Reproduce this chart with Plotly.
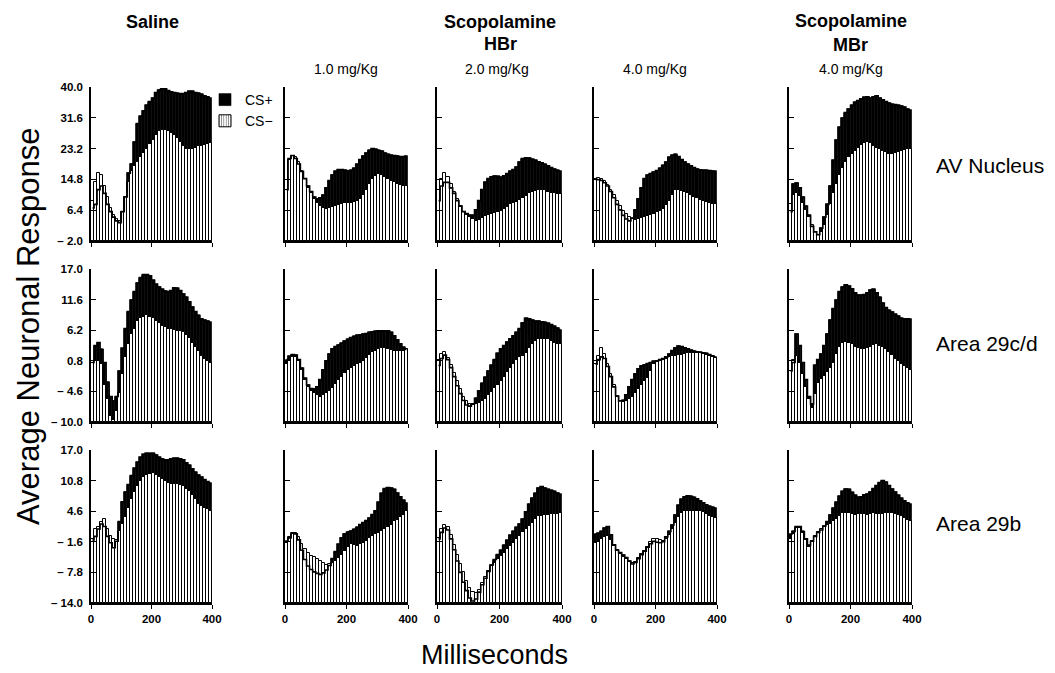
import plotly.graph_objects as go

# ---------------- data (average neuronal response per 10-ms bin) ----------------
time_ms = list(range(5, 400, 10))  # bin centres, 0-400 ms, 40 bins

# Row 1: AV Nucleus
av_sal_p = [7, 8, 12, 13, 11, 8, 6, 4.5, 3.5, 3, 6, 10, 16.5, 19, 25, 30, 32, 33.5, 35, 36, 37, 38.5, 39.2, 39.5, 39.5, 39, 38.7, 38.5, 38.3, 38.2, 38.2, 38.5, 38.8, 38.8, 38.5, 38.3, 38, 37.6, 37.3, 37]
av_sal_m = [9, 14, 16.5, 16, 13, 10, 7, 5, 4, 3.5, 6, 10, 14, 17, 18.5, 19.5, 21, 22, 23.2, 24.5, 25.5, 27, 28, 28.2, 28.2, 28, 27.5, 26.8, 26, 25, 24, 23.2, 23, 23.2, 23.5, 23.8, 24, 24.2, 24.4, 24.6]
av_h1_p = [12, 20.5, 21.3, 20.5, 19, 17, 15, 13, 11.5, 10, 9.5, 9.8, 10.5, 12.5, 14.5, 16, 17, 17.5, 17.5, 17.3, 17.1, 17.3, 17.8, 18.9, 20.2, 21.2, 22, 22.7, 23.2, 23, 22.7, 22.5, 22, 21.6, 21.4, 21.3, 21.2, 21, 21, 21.2]
av_h1_m = [12, 20, 21.2, 21, 19.5, 17, 14.8, 12.5, 11, 9.5, 8.5, 7.5, 7, 6.8, 7, 7.2, 7.5, 7.8, 8, 8.3, 8.5, 8.5, 8.6, 8.8, 9.5, 10.5, 12, 13.5, 15, 15.8, 16.2, 16, 15.5, 15, 14.5, 14, 13.6, 13.3, 13, 13]
av_h2_p = [9, 13, 14, 14, 12.5, 11, 9, 7.5, 6, 5.5, 5, 5, 6.5, 9, 12, 14, 15, 15.5, 15.7, 15.6, 15.4, 15.8, 16.4, 17, 17.5, 18.2, 19.5, 20.5, 20.7, 20.6, 20.3, 20, 19.6, 19.3, 18.9, 18.5, 18, 17.6, 17.3, 17.1]
av_h2_m = [12, 15, 16.5, 15.5, 13.5, 11.5, 9.5, 7.5, 6, 5.2, 4.5, 4, 3.5, 3.8, 4.3, 4.8, 5.1, 5.4, 5.7, 6, 6.2, 6.7, 7.2, 8, 8.3, 8.6, 9.2, 9.8, 10.3, 11, 11.4, 11.6, 11.9, 12, 11.8, 11.5, 11.2, 11, 10.8, 10.8]
av_h4_p = [14.8, 14.7, 14.5, 13.9, 13, 11.5, 9.8, 8, 6.5, 5, 4, 3.5, 4.2, 6.5, 9.5, 12.5, 15, 16, 16.4, 16.8, 17.2, 17.8, 18.6, 19.5, 20.8, 21.4, 21.6, 21, 20.2, 19.5, 19, 18.5, 18, 17.6, 17.4, 17.3, 17.3, 17.2, 17.1, 17]
av_h4_m = [15, 15.2, 15, 14.3, 13.3, 12, 10.5, 9, 7.5, 6.3, 5.3, 4.5, 3.9, 3.8, 4, 4.3, 4.6, 4.9, 5.2, 5.5, 5.8, 6.1, 6.8, 7.8, 9, 10.5, 12, 12, 11.6, 11.3, 11, 10.6, 10, 9.6, 9.2, 8.9, 8.6, 8.4, 8.2, 8]
av_m_p = [6, 13.5, 13.8, 12.5, 10, 7.5, 5, 2, 0.5, -0.3, 1.5, 4.5, 8, 13, 20, 25.5, 29, 31.5, 33, 34, 35, 35.8, 36.3, 36.8, 37.2, 37.3, 37, 37.3, 37.6, 37, 36.5, 36, 35.6, 35.3, 35.2, 35, 34.8, 34.5, 34, 33.8]
av_m_m = [8, 10.5, 11, 10.3, 8.5, 6.5, 4.5, 2.5, 0.5, -0.3, 0.5, 2.5, 5, 8, 11, 13.5, 16, 18, 19.5, 20.8, 21.8, 22.6, 23.5, 24.3, 24.8, 25, 24.6, 24, 23.4, 23, 22.6, 22.2, 21.8, 21.7, 22, 22.3, 22.6, 22.8, 23, 23]

# Row 2: Area 29c/d
cd_sal_p = [0.5, 3.5, 4, 2.8, 0.5, -3, -5.5, -6.3, -5.5, -1, 3, 6.5, 9.5, 11.5, 13, 14.5, 15.5, 16, 16, 15.8, 15, 14.3, 13.8, 13.4, 13.1, 13, 13.2, 13.7, 13.6, 13.2, 12.6, 12, 11.2, 10.3, 9.5, 8.8, 8.2, 8, 7.8, 7.6]
cd_sal_m = [0.5, 0.8, 0.8, 0.3, -3.5, -6, -9, -9.7, -8, -4.8, -1.5, 1.5, 3.8, 5.5, 6.5, 7.8, 8.3, 8.6, 8.8, 8.6, 8.3, 7.8, 7.4, 7, 6.8, 6.5, 6.4, 6.2, 6.1, 6, 5.8, 5.4, 4.8, 4, 3.3, 2.5, 1.7, 1.1, 0.7, 0.4]
cd_h1_p = [1, 1.6, 1.9, 1.8, 1, -0.5, -2.3, -3.5, -4.1, -4.2, -3.8, -2.5, -0.8, 0.8, 2, 2.9, 3.3, 3.6, 3.9, 4.3, 4.6, 4.9, 5.1, 5.3, 5.4, 5.5, 5.6, 5.8, 5.9, 6, 6.1, 6.1, 6.1, 6.1, 5.8, 5.2, 4.5, 3.8, 3.2, 2.8]
cd_h1_m = [0.2, 1, 1.4, 1.5, 0.8, -0.8, -2.5, -3.8, -4.5, -4.9, -5.2, -5.5, -5.2, -4.8, -4.5, -4, -3.3, -2.6, -2, -1.3, -0.8, -0.5, -0.1, 0.2, 0.4, 0.8, 1.3, 1.9, 2.3, 2.5, 2.8, 3, 3.1, 2.9, 2.7, 2.5, 2.5, 2.5, 2.6, 2.8]
cd_h2_p = [0, 1.2, 1.8, 1, -0.4, -2, -3.6, -5, -6.2, -7, -7.2, -6.8, -5.8, -4.5, -3.2, -2.1, -1, 0, 1, 2.1, 2.9, 3.5, 4.1, 4.7, 5.2, 5.8, 6.5, 7.5, 8.3, 8.2, 8, 7.8, 7.8, 7.7, 7.6, 7.4, 7.2, 6.9, 6.6, 6.3]
cd_h2_m = [1, 2, 2.3, 1.3, 0, -1.3, -2.8, -4.2, -5.5, -6.3, -6.8, -7, -6.8, -6.6, -6.3, -5.9, -5.3, -4.7, -4, -3.4, -2.7, -2, -1.2, -0.4, 0.3, 1, 1.4, 1.7, 2.2, 3, 3.8, 4.3, 4.6, 4.7, 4.7, 4.6, 4.3, 4, 3.8, 3.7]
cd_h4_p = [0.2, 1, 1.5, 1.2, -0.2, -2, -3.8, -5.4, -6.3, -6.2, -5.2, -3.8, -2.5, -1.5, -0.6, -0.1, 0.1, 0.3, 0.5, 0.7, 0.8, 1, 1.2, 1.5, 2, 2.6, 3.1, 3.4, 3.3, 3.1, 2.9, 2.7, 2.5, 2.4, 2.3, 2.2, 2.1, 1.9, 1.7, 1.5]
cd_h4_m = [0.2, 1.6, 3, 2, 0.2, -1.5, -3.5, -5.5, -6.3, -6.4, -6.3, -6, -5.5, -4.8, -4.2, -3.5, -2.8, -2.2, -1, 0.3, 0.6, 0.8, 1, 1.2, 1.4, 1.6, 1.7, 1.8, 1.9, 2, 2.1, 2.2, 2.2, 2.2, 2.1, 2, 1.8, 1.6, 1.4, 1.3]
cd_m_p = [-1, 0.5, 5.5, 3.5, 0.5, -2.5, -5.5, -6.8, 0, 1, 2, 3.5, 5.5, 8, 10, 11.5, 13, 13.8, 14.2, 14, 13.5, 12.8, 12.4, 12.4, 12.5, 12.8, 13.3, 13.4, 12.8, 12, 11, 10.2, 9.7, 9.4, 9, 8.7, 8.3, 8.2, 8.2, 8.2]
cd_m_m = [-1, 1, 1.7, 0.5, -1.5, -3.8, -6, -7.6, -5, -3.2, -2.4, -1.8, -1.2, -0.5, 0.5, 2, 3.3, 3.9, 4.1, 4, 3.7, 3.3, 3, 2.9, 2.9, 3, 3.3, 3.6, 3.7, 3.5, 3.2, 2.8, 2.3, 1.8, 1.2, 0.7, 0.2, -0.2, -0.5, -0.9]

# Row 3: Area 29b
b_sal_p = [-1.2, -0.5, 1, 2, 1.5, -0.5, -1.8, -2.8, -1.5, 2.5, 6.5, 8.5, 10, 11.8, 13.3, 14.5, 15.5, 16.1, 16.3, 16.3, 16.3, 16, 15.5, 15.2, 15, 15, 15.2, 15.3, 15.3, 15.2, 15, 14.4, 13.9, 13.2, 12.5, 11.9, 11.5, 11, 10.6, 10.3]
b_sal_m = [-1, 1, 1.5, 2.5, 3, 1, -0.5, -1, -1.2, 0.5, 2, 3.5, 5.2, 7, 8.5, 9.8, 10.8, 11.5, 12, 12.2, 12.3, 12, 11.6, 11.2, 10.8, 10.4, 10.2, 10.1, 10.1, 10, 9.7, 9.2, 8.6, 7.8, 7, 6, 5.6, 5.3, 5.1, 4.7]
b_h1_p = [-1.5, -0.8, 0.2, 0, -1.2, -3.3, -5.2, -6.5, -7.2, -7.7, -8, -8.2, -7.9, -7.3, -6.4, -5, -3.6, -2.1, -0.8, 0, 0.4, 0.6, 0.9, 1.3, 1.9, 2.3, 2.7, 3.2, 3.9, 4.7, 6.4, 8.2, 9.2, 9.4, 9.3, 9, 8.3, 7.5, 6.8, 6.3]
b_h1_m = [-1.8, -0.6, 0, 0.1, -0.6, -2, -3.1, -3.8, -4.4, -4.7, -5, -5.5, -5.9, -6.2, -6, -5.8, -5.4, -4.8, -4.2, -3.5, -2.6, -2.1, -2.3, -2.4, -2.1, -1.8, -1.5, -0.8, -0.4, -0.1, 0.1, 0.5, 0.9, 1.5, 1.9, 2.6, 2.9, 3.4, 3.8, 4.6]
b_h2_p = [-1, 0.3, 1.2, 0.8, -1, -3.2, -5.5, -7.8, -9.8, -11.5, -13, -13.6, -13.2, -11.8, -10.3, -9, -7.6, -6.3, -5.2, -4.2, -3.3, -2.3, -1.3, -0.3, 0.5, 1.3, 2, 3, 4.5, 6, 7.2, 8.2, 9.3, 9.6, 9.3, 9, 8.8, 8.6, 8.3, 8]
b_h2_m = [-0.8, 1, 1.9, 1.5, -0.3, -2.3, -4.2, -6, -7.8, -9.5, -11, -11.8, -12, -11.3, -10, -8.8, -7.6, -6.6, -5.8, -5.1, -4.5, -3.8, -3.1, -2.5, -1.8, -1.1, -0.4, 0.3, 1, 1.6, 2.3, 3, 3.6, 3.7, 3.8, 3.9, 4, 4, 4.1, 4.2]
b_h4_p = [0, 0.1, 0.5, 1.2, 1.5, -0.2, -2.2, -3.3, -3.8, -4.3, -4.8, -5.5, -6.1, -5.8, -5, -4.2, -3.5, -2.7, -2, -1.5, -1.7, -1.8, -1.6, -0.6, 0.5, 1.8, 3.8, 5.8, 7, 7.5, 7.7, 7.6, 7.4, 7.1, 6.7, 6.3, 5.9, 5.6, 5.4, 5.3]
b_h4_m = [-1.8, -1.5, -1.1, -0.6, -0.5, -1.3, -2.5, -3.3, -4.1, -4.6, -5.1, -5.7, -5.9, -5.6, -4.8, -4.1, -3.5, -2.6, -1.6, -1.1, -1.1, -1.3, -1.4, -1, -0.3, 0.9, 2.2, 3.4, 4.3, 4.7, 4.7, 4.7, 4.7, 4.7, 4.6, 4.4, 4.1, 3.7, 3.5, 3.3]
b_m_p = [0, 0.5, 1.5, 1.5, 0.5, -1, -2.3, -1.5, -0.5, 0.3, 0.8, 1.6, 2.5, 3.8, 5.2, 6.4, 7.6, 8.6, 9.1, 9, 8.4, 7.8, 7.4, 7.5, 7.9, 8.1, 8.5, 9.2, 9.8, 10.4, 10.8, 10.5, 9.8, 9.1, 8.5, 7.8, 7.2, 6.7, 6.3, 6.1]
b_m_m = [-1, 0, 1.2, 1.1, 0.2, -1.3, -2.6, -1.5, -0.5, 0.3, 0.9, 1.5, 1.8, 2.1, 2.6, 3.1, 3.6, 4.3, 4.3, 4.2, 4, 3.9, 4, 4.1, 4, 3.9, 4.1, 4.2, 4.1, 4, 4.1, 4.2, 4.2, 4.2, 4.1, 3.9, 3.6, 3.2, 2.9, 2.7]

row_labels = ["AV Nucleus", "Area 29c/d", "Area 29b"]
dose_labels = ["", "1.0 mg/Kg", "2.0 mg/Kg", "4.0 mg/Kg", "4.0 mg/Kg"]
row_ranges = [(-2.0, 40.0), (-10.0, 17.0), (-14.0, 17.0)]
row_tickvals = [[-2.0, 6.4, 14.8, 23.2, 31.6, 40.0],
                [-10.0, -4.6, 0.8, 6.2, 11.6, 17.0],
                [-14.0, -7.8, -1.6, 4.6, 10.8, 17.0]]
row_ticktext = [["\u2013 2.0", "6.4", "14.8", "23.2", "31.6", "40.0"],
                ["\u2013 10.0", "\u2013 4.6", "0.8", "6.2", "11.6", "17.0"],
                ["\u2013 14.0", "\u2013 7.8", "\u2013 1.6", "4.6", "10.8", "17.0"]]
x_tickvals = [0, 200, 400]

panels = [
    [(av_sal_p, av_sal_m), (av_h1_p, av_h1_m), (av_h2_p, av_h2_m), (av_h4_p, av_h4_m), (av_m_p, av_m_m)],
    [(cd_sal_p, cd_sal_m), (cd_h1_p, cd_h1_m), (cd_h2_p, cd_h2_m), (cd_h4_p, cd_h4_m), (cd_m_p, cd_m_m)],
    [(b_sal_p, b_sal_m), (b_h1_p, b_h1_m), (b_h2_p, b_h2_m), (b_h4_p, b_h4_m), (b_m_p, b_m_m)],
]

# ---------------- layout geometry (pixels in the 1055x673 window) ----------------
WIN_W, WIN_H = 1055, 673
PAGE_PAD = 8  # default body margin of the html page
W, H = WIN_W - PAGE_PAD, WIN_H - PAGE_PAD
col_px = [(91, 212), (285, 408), (437, 562), (594, 717), (789, 912)]
row_px = [(87, 241), (269, 422), (450, 603)]
FONT = "Liberation Sans, Arial, Helvetica, sans-serif"


def fx(p):
    return (p - PAGE_PAD) / W


def fy(p):
    return 1 - (p - PAGE_PAD) / H


fig = go.Figure()
layout_axes = {}

for r in range(3):
    ymin, ymax = row_ranges[r]
    for c in range(5):
        k = r * 5 + c + 1
        xa = "x" if k == 1 else f"x{k}"
        ya = "y" if k == 1 else f"y{k}"
        csp, csm = panels[r][c]
        first = (k == 1)
        fig.add_trace(go.Bar(
            x=time_ms, y=[v - ymin for v in csp], base=ymin, width=10,
            marker=dict(color="black", line=dict(color="black", width=0.6)),
            name="CS+", showlegend=first, legendrank=1,
            xaxis=xa, yaxis=ya, hoverinfo="skip"))
        fig.add_trace(go.Bar(
            x=time_ms, y=[v - ymin for v in csm], base=ymin, width=10,
            marker=dict(color="white", line=dict(color="black", width=1)),
            name="CS\u2212", showlegend=False,
            xaxis=xa, yaxis=ya, hoverinfo="skip"))
        fig.add_trace(go.Scatter(
            x=time_ms, y=csp, mode="lines",
            line=dict(color="black", width=1.6, shape="hvh"),
            showlegend=False, xaxis=xa, yaxis=ya, hoverinfo="skip"))

        x0, x1 = col_px[c]
        y0, y1 = row_px[r]
        layout_axes["xaxis" if k == 1 else f"xaxis{k}"] = dict(
            domain=[fx(x0), fx(x1)], anchor=ya, range=[0, 400],
            showline=True, linecolor="black", linewidth=1.5,
            ticks="outside", ticklen=4, tickwidth=1.2, tickcolor="black",
            tickvals=x_tickvals, ticktext=[str(t) for t in x_tickvals],
            showticklabels=(r == 2), showgrid=False, zeroline=False,
            automargin=False,
            tickfont=dict(family=FONT, size=11.5, color="black", weight="bold"),
            fixedrange=True)
        layout_axes["yaxis" if k == 1 else f"yaxis{k}"] = dict(
            domain=[fy(y1), fy(y0)], anchor=xa, range=[ymin, ymax],
            showline=True, linecolor="black", linewidth=1.5,
            ticks="inside", ticklen=5, tickwidth=1.2, tickcolor="black",
            tickvals=row_tickvals[r], ticktext=row_ticktext[r],
            showticklabels=(c == 0), showgrid=False, zeroline=False,
            ticklabelstandoff=4, automargin=False,
            tickfont=dict(family=FONT, size=11.5, color="black", weight="bold"),
            fixedrange=True)

# legend-only entry with striped icon for CS-
fig.add_trace(go.Bar(
    x=[None], y=[None], name="CS\u2212", legendrank=2,
    marker=dict(color="white", line=dict(color="black", width=1),
                pattern=dict(shape="|", fgcolor="black", bgcolor="white", size=3, solidity=0.35)),
    xaxis="x", yaxis="y", showlegend=True, hoverinfo="skip"))

annotations = []


def add_text(text, px, py, size, bold=False, xanchor="center", angle=0):
    annotations.append(dict(
        text=text, x=fx(px), y=fy(py), xref="paper", yref="paper",
        xanchor=xanchor, yanchor="middle", showarrow=False, textangle=angle,
        font=dict(family=FONT, size=size, color="black", weight="bold" if bold else "normal")))


add_text("Saline", 152, 22, 18, bold=True)
add_text("Scopolamine", 500, 22, 18, bold=True)
add_text("HBr", 500, 44, 18, bold=True)
add_text("Scopolamine", 851, 21, 18, bold=True)
add_text("MBr", 851, 45, 18, bold=True)
dose_px = [None, 346, 497, 655, 851]
for c in range(1, 5):
    add_text(dose_labels[c], dose_px[c], 69, 14)
for r, ypx in enumerate([165, 343, 523]):
    add_text(row_labels[r], 934, ypx, 21, xanchor="left")
add_text("Average Neuronal Response", 28, 326, 31, angle=-90)
add_text("Milliseconds", 494, 655, 27)

fig.update_layout(
    width=W, height=H,
    margin=dict(l=0, r=0, t=0, b=0, autoexpand=False),
    paper_bgcolor="white", plot_bgcolor="white",
    barmode="overlay", bargap=0,
    showlegend=True,
    legend=dict(x=fx(205), y=fy(84), xanchor="left", yanchor="top",
                bgcolor="rgba(0,0,0,0)", font=dict(family=FONT, size=14, color="black"),
                itemwidth=30, tracegroupgap=0, traceorder="normal"),
    annotations=annotations,
    font=dict(family=FONT, color="black"),
    **layout_axes,
)

fig.write_html("out.html")
